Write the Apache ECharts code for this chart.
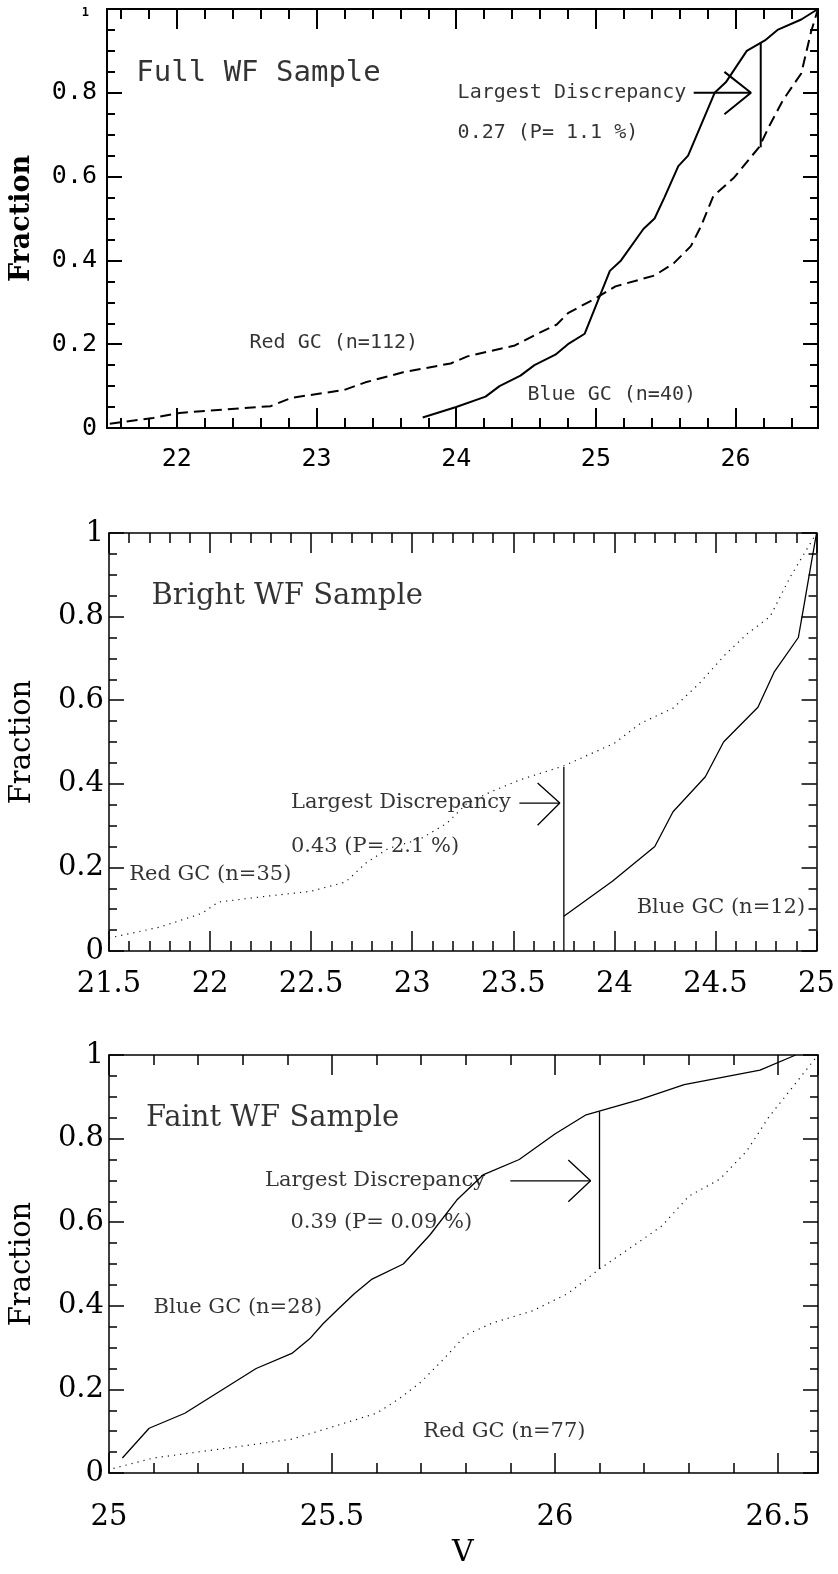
<!DOCTYPE html>
<html>
<head>
<meta charset="utf-8">
<script src="https://cdn.jsdelivr.net/npm/echarts@6/dist/echarts.min.js"></script>
<style>
html,body{margin:0;padding:0;background:#fff}
#main{width:838px;height:1574px}
</style>
</head>
<body>
<div id="main"></div>
<script>
// full WF sample
var fullBlueV = [23.76,24.0,24.21,24.31,24.46,24.56,24.71,24.80,24.92,25.10,25.18,25.34,25.42,25.49,25.59,25.66,25.85,25.93,26.08,26.21,26.30,26.47,26.59]
var fullBlueF = [0.025,0.05,0.075,0.10,0.125,0.15,0.175,0.20,0.225,0.375,0.40,0.475,0.50,0.55,0.625,0.65,0.80,0.825,0.90,0.925,0.95,0.975,1.0]
var fullRedV = [21.52,21.83,22.02,22.67,22.82,23.20,23.35,23.62,23.96,24.08,24.42,24.57,24.72,24.80,25.00,25.14,25.42,25.56,25.68,25.75,25.84,25.99,26.17,26.24,26.34,26.47,26.54,26.59]
var fullRedF = [0.010,0.024,0.036,0.052,0.072,0.091,0.109,0.133,0.154,0.171,0.197,0.223,0.247,0.274,0.31,0.338,0.364,0.394,0.434,0.48,0.553,0.598,0.671,0.72,0.783,0.846,0.945,1.0]

// bright WF sample
var brightRedV = [21.50,21.75,21.96,22.04,22.26,22.50,22.67,22.77,22.88,23.04,23.17,23.27,23.39,23.53,23.75,24.00,24.13,24.29,24.42,24.55,24.66,24.77,24.87,25.00]
var brightRedF = [0.031,0.057,0.09,0.117,0.13,0.143,0.165,0.21,0.245,0.268,0.305,0.353,0.381,0.409,0.443,0.497,0.545,0.581,0.64,0.71,0.76,0.80,0.895,1.0]
var brightBlueV = [23.75,23.99,24.20,24.29,24.45,24.54,24.71,24.79,24.91,24.94,24.97,25.0]
var brightBlueF = [0.083,0.167,0.25,0.333,0.417,0.5,0.583,0.667,0.75,0.833,0.917,1.0]

// faint WF sample
var faintBlueV = [25.03,25.09,25.17,25.33,25.41,25.45,25.48,25.51,25.55,25.59,25.66,25.72,25.78,25.84,25.92,26.00,26.07,26.19,26.29,26.46,26.54]
var faintBlueF = [0.036,0.107,0.143,0.25,0.286,0.321,0.357,0.388,0.429,0.464,0.50,0.57,0.653,0.714,0.75,0.811,0.857,0.893,0.929,0.964,1.0]
var faintRedV = [25.01,25.10,25.24,25.33,25.41,25.50,25.60,25.65,25.70,25.75,25.80,25.86,25.95,26.03,26.10,26.19,26.24,26.30,26.37,26.43,26.48,26.53,26.59]
var faintRedF = [0.011,0.036,0.056,0.069,0.081,0.11,0.143,0.177,0.218,0.272,0.33,0.359,0.388,0.43,0.488,0.554,0.591,0.662,0.703,0.77,0.852,0.919,1.0]

// largest discrepancy marks: vertical bar, arrow shaft, arrow head
var fullBarV = [26.18,26.18], fullBarF = [0.67,0.92]
var fullShaftV = [25.70,26.11], fullShaftF = [0.80,0.80]
var fullHeadV = [25.92,26.11,25.92], fullHeadF = [0.85,0.80,0.749]
var brightBarV = [23.75,23.75], brightBarF = [0,0.44]
var brightShaftV = [23.53,23.73], brightShaftF = [0.354,0.354]
var brightHeadV = [23.62,23.73,23.62], brightHeadF = [0.402,0.354,0.301]
var faintBarV = [26.10,26.10], faintBarF = [0.488,0.865]
var faintShaftV = [25.90,26.08], faintShaftF = [0.699,0.699]
var faintHeadV = [26.03,26.08,26.03], faintHeadF = [0.749,0.699,0.649]

// annotation texts (left anchor)
var fullText = ['Full WF Sample','Largest Discrepancy','0.27 (P= 1.1 %)','Red GC (n=112)','Blue GC (n=40)']
var fullTextV = [21.71,24.01,24.01,22.52,24.51]
var fullTextF = [0.847,0.80,0.704,0.203,0.079]
var brightText = ['Bright WF Sample','Largest Discrepancy','0.43 (P= 2.1 %)','Red GC (n=35)','Blue GC (n=12)']
var brightTextV = [21.71,22.40,22.40,21.60,24.11]
var brightTextF = [0.849,0.354,0.249,0.182,0.103]
var faintText = ['Faint WF Sample','Largest Discrepancy','0.39 (P= 0.09 %)','Blue GC (n=28)','Red GC (n=77)']
var faintTextV = [25.083,25.35,25.407,25.10,25.705]
var faintTextF = [0.848,0.70,0.60,0.397,0.098]

var monoFont = '"DejaVu Sans Mono"'
var serifFont = '"DejaVu Serif"'

var tops = [9,533,1055]
var heights = [419,418,418]

function pairs(vs, fs){
  return vs.map(function(v,i){ return [v, fs[i]] })
}

var grids = [], xAxes = [], yAxes = [], series = []

function panel(p, cfg){
  grids.push({left:107, width:711, top:tops[p], height:heights[p]})
  var lw = cfg.frameWidth
  var xBase = {
    gridIndex:p, type:'value', min:cfg.xMin, max:cfg.xMax,
    axisLine:{show:true, onZero:false, lineStyle:{color:'#000', width:lw}},
    axisTick:{show:true, inside:true, length:20, lineStyle:{color:'#000', width:lw}},
    minorTick:{show:true, splitNumber:cfg.xMinor, length:10, lineStyle:{color:'#000', width:lw}},
    splitLine:{show:false}
  }
  if (cfg.xInterval) xBase.interval = cfg.xInterval
  else xBase.splitNumber = 5
  var step = cfg.labelStep
  xAxes.push(Object.assign({}, xBase, {
    position:'bottom',
    axisLabel:{show:true, margin:cfg.xMargin, color:cfg.labelColor, fontFamily:cfg.labelFont, fontSize:cfg.labelSize,
      formatter:function(v){
        // only label whole steps, not the frame edges
        return Math.abs(v/step - Math.round(v/step)) < 1e-6 ? String(v) : ''
      }}
  }))
  xAxes.push(Object.assign({}, xBase, {position:'top', axisLabel:{show:false}}))

  var yBase = {
    gridIndex:p, type:'value', min:0, max:1, interval:0.2,
    axisLine:{show:true, onZero:false, lineStyle:{color:'#000', width:lw}},
    axisTick:{show:true, inside:true, length:15, lineStyle:{color:'#000', width:lw}},
    minorTick:{show:true, splitNumber:4, length:8, lineStyle:{color:'#000', width:lw}},
    splitLine:{show:false}
  }
  yAxes.push(Object.assign({}, yBase, {
    position:'left',
    name:'Fraction', nameLocation:'middle', nameGap:72, nameRotate:90,
    nameTextStyle:cfg.nameStyle,
    axisLabel:{show:true, margin:cfg.yMargin, color:cfg.labelColor, fontFamily:cfg.labelFont, fontSize:cfg.labelSize,
      formatter:cfg.yFormatter, rich:cfg.yRich}
  }))
  yAxes.push(Object.assign({}, yBase, {position:'right', axisLabel:{show:false}}))

  var xi = 2*p, yi = 2*p
  cfg.lines.forEach(function(l){
    series.push({
      type:'line', xAxisIndex:xi, yAxisIndex:yi, data:pairs(l.v, l.f),
      symbol:'none', silent:true, animation:false,
      lineStyle:l.style
    })
  })
  var items = cfg.text.map(function(t,i){ return {name:t, value:[cfg.textV[i], cfg.textF[i]]} })
  // the sample name is written larger
  items[0].label = {fontSize:cfg.titleSize}
  series.push({
    type:'scatter', xAxisIndex:xi, yAxisIndex:yi, symbolSize:0, silent:true, animation:false,
    data:items,
    label:{show:true, position:'right', distance:0, formatter:function(d){ return d.name },
      color:cfg.textColor, fontFamily:cfg.textFont, fontSize:cfg.textSize}
  })
}

var markStyle1 = {color:'#000', width:2, type:'solid'}
var markStyle2 = {color:'#000', width:1.3, type:'solid'}

panel(0, {
  xMin:21.5, xMax:26.59, xInterval:null, labelStep:1, xMinor:5, xMargin:19, yMargin:10, frameWidth:2,
  labelColor:'#000', labelFont:monoFont, labelSize:25,
  yFormatter:function(v){ return v == 1 ? '{s|1}' : String(v) },
  yRich:{s:{fontSize:12, fontWeight:'bold', fontFamily:monoFont, padding:[8,8,0,0]}},
  nameStyle:{fontFamily:serifFont, fontWeight:'bold', fontSize:27, color:'#000'},
  text:fullText, textV:fullTextV, textF:fullTextF,
  textColor:'#000', textFont:monoFont, textSize:20, titleSize:29,
  lines:[
    {v:fullBlueV, f:fullBlueF, style:{color:'#000', width:2, type:'solid'}},
    {v:fullRedV, f:fullRedF, style:{color:'#000', width:2, type:[11,6]}},
    {v:fullBarV, f:fullBarF, style:markStyle1},
    {v:fullShaftV, f:fullShaftF, style:markStyle1},
    {v:fullHeadV, f:fullHeadF, style:markStyle1}
  ]
})

panel(1, {
  xMin:21.5, xMax:25, xInterval:0.5, labelStep:0.5, xMinor:5, xMargin:19, yMargin:5, frameWidth:1.5,
  labelColor:'#000', labelFont:serifFont, labelSize:29,
  yFormatter:null, yRich:null,
  nameStyle:{fontFamily:serifFont, fontSize:29, color:'#000'},
  text:brightText, textV:brightTextV, textF:brightTextF,
  textColor:'#000', textFont:serifFont, textSize:21, titleSize:29,
  lines:[
    {v:brightRedV, f:brightRedF, style:{color:'#111', width:1.2, type:[1.2,5]}},
    {v:brightBlueV, f:brightBlueF, style:{color:'#000', width:1.3, type:'solid'}},
    {v:brightBarV, f:brightBarF, style:markStyle2},
    {v:brightShaftV, f:brightShaftF, style:markStyle2},
    {v:brightHeadV, f:brightHeadF, style:markStyle2}
  ]
})

panel(2, {
  xMin:25, xMax:26.59, xInterval:0.5, labelStep:0.5, xMinor:5, xMargin:30, yMargin:5, frameWidth:1.5,
  labelColor:'#000', labelFont:serifFont, labelSize:29,
  yFormatter:null, yRich:null,
  nameStyle:{fontFamily:serifFont, fontSize:29, color:'#000'},
  text:faintText, textV:faintTextV, textF:faintTextF,
  textColor:'#000', textFont:serifFont, textSize:21, titleSize:29,
  lines:[
    {v:faintBlueV, f:faintBlueF, style:{color:'#000', width:1.3, type:'solid'}},
    {v:faintRedV, f:faintRedF, style:{color:'#111', width:1.2, type:[1.2,5]}},
    {v:faintBarV, f:faintBarF, style:markStyle2},
    {v:faintShaftV, f:faintShaftF, style:markStyle2},
    {v:faintHeadV, f:faintHeadF, style:markStyle2}
  ]
})

var myChart = echarts.init(document.getElementById('main'))
myChart.setOption({
  animation:false,
  backgroundColor:'#fff',
  grid:grids,
  xAxis:xAxes,
  yAxis:yAxes,
  series:series,
  graphic:[{
    // shared x axis title under the last panel
    type:'text', left:452, top:1538, silent:true,
    style:{text:'V', fontFamily:serifFont, fontSize:30, fill:'#000'}
  }]
})
</script>
</body>
</html>
